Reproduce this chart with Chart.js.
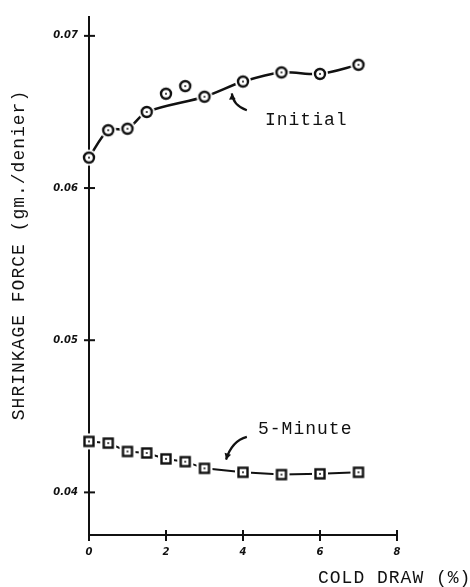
<!DOCTYPE html>
<html>
<head>
<meta charset="utf-8">
<script src="https://cdn.jsdelivr.net/npm/chart.js@4.4.1/dist/chart.umd.min.js"></script>
<style>
  html, body { margin: 0; padding: 0; background: #fff; }
  #chart { display: block; }
</style>
</head>
<body>
<canvas id="chart" width="470" height="587"></canvas>
<script>
// cold draw (%) - same for both runs
const coldDraw = [0, 0.5, 1, 1.5, 2, 2.5, 3, 4, 5, 6, 7];
// shrinkage force (gm./denier)
const initialForce = [0.0620, 0.0638, 0.0639, 0.0650, 0.0662, 0.0667, 0.0660, 0.0670, 0.0676, 0.0675, 0.0681];
const fiveMinuteForce = [0.04335, 0.04324, 0.04269, 0.04259, 0.04220, 0.04202, 0.04158, 0.04132, 0.04117, 0.04122, 0.04132];
// the hand drawn curve of the initial run passes below these two points
const initialOffCurve = [2, 2.5];
const xTicks = [0, 2, 4, 6, 8];
const yTicks = [0.04, 0.05, 0.06, 0.07];

const ink = '#111';
const typeFont = '18px "Liberation Mono", "Courier New", monospace';
const tickFont = { family: 'DejaVu Sans', size: 10, weight: 'bold', style: 'italic' };

// marker images: ring / box with a dot, on a white patch so the line stops short of it
function makeMarker(shape) {
    const c = document.createElement('canvas');
    c.width = 18;
    c.height = 18;
    const g = c.getContext('2d');
    g.fillStyle = '#fff';
    g.strokeStyle = ink;
    g.lineWidth = 2.4;
    if (shape === 'circle') {
        g.beginPath(); g.arc(9, 9, 8, 0, Math.PI * 2); g.fill();
        g.beginPath(); g.arc(9, 9, 5, 0, Math.PI * 2); g.stroke();
    } else {
        g.fillRect(1, 1, 16, 16);
        g.strokeRect(4.5, 4.5, 9, 9);
    }
    g.fillStyle = ink;
    g.beginPath(); g.arc(9, 9, 1, 0, Math.PI * 2); g.fill();
    return c;
}

const toPoints = (xs, ys) => xs.map((x, i) => ({ x: x, y: ys[i] }));
const initialPoints = toPoints(coldDraw, initialForce);
const initialCurve = initialPoints.filter(p => !initialOffCurve.includes(p.x));

// crosses on the axes, typed labels and arrows
const paperMarks = {
    id: 'paperMarks',
    afterDraw(chart) {
        const ctx = chart.ctx;
        const xs = chart.scales.x;
        const ys = chart.scales.y;
        const px = v => xs.getPixelForValue(v);
        const py = v => ys.getPixelForValue(v);
        ctx.save();
        ctx.strokeStyle = ink;
        ctx.fillStyle = ink;
        ctx.lineWidth = 2;

        const x0 = px(0), y0 = ys.bottom;
        yTicks.forEach(v => {
            ctx.beginPath();
            ctx.moveTo(x0 - 5, py(v));
            ctx.lineTo(x0 + 6, py(v));
            ctx.stroke();
        });
        xTicks.forEach(v => {
            ctx.beginPath();
            ctx.moveTo(px(v), y0 - 5);
            ctx.lineTo(px(v), y0 + 6);
            ctx.stroke();
        });

        function arrow(tail, ctrl, head) {
            const t = [px(tail[0]), py(tail[1])];
            const c = [px(ctrl[0]), py(ctrl[1])];
            const h = [px(head[0]), py(head[1])];
            ctx.lineWidth = 2.2;
            ctx.beginPath();
            ctx.moveTo(t[0], t[1]);
            ctx.quadraticCurveTo(c[0], c[1], h[0], h[1]);
            ctx.stroke();
            const a = Math.atan2(h[1] - c[1], h[0] - c[0]);
            ctx.beginPath();
            ctx.moveTo(h[0], h[1]);
            ctx.lineTo(h[0] - 7 * Math.cos(a - 0.5), h[1] - 7 * Math.sin(a - 0.5));
            ctx.lineTo(h[0] - 7 * Math.cos(a + 0.5), h[1] - 7 * Math.sin(a + 0.5));
            ctx.closePath();
            ctx.fill();
        }
        arrow([4.10, 0.06511], [3.74, 0.06543], [3.71, 0.06622]);
        arrow([4.10, 0.04365], [3.71, 0.04339], [3.56, 0.04215]);

        ctx.font = typeFont;
        ctx.letterSpacing = '1px';
        ctx.textBaseline = 'alphabetic';
        ctx.textAlign = 'left';
        ctx.fillText('Initial', px(4.57), py(0.06413));
        ctx.fillText('5-Minute', px(4.39), py(0.04385));
        ctx.fillText('COLD DRAW (%)', 318, 583);

        ctx.translate(24, 255);
        ctx.rotate(-Math.PI / 2);
        ctx.textAlign = 'center';
        ctx.fillText('SHRINKAGE FORCE (gm./denier)', 0, 0);
        ctx.restore();
    }
};

new Chart(document.getElementById('chart'), {
    type: 'line',
    data: {
        datasets: [
            {
                label: 'Initial curve',
                data: initialCurve,
                borderColor: ink,
                borderWidth: 2.5,
                tension: 0.3,
                pointRadius: 0,
                fill: false,
                order: 2
            },
            {
                label: 'Initial',
                data: initialPoints,
                showLine: false,
                pointStyle: makeMarker('circle'),
                pointRadius: 5,
                clip: false,
                order: 0
            },
            {
                label: '5-Minute',
                data: toPoints(coldDraw, fiveMinuteForce),
                borderColor: ink,
                borderWidth: 2,
                tension: 0,
                pointStyle: makeMarker('square'),
                pointRadius: 5,
                clip: false,
                fill: false,
                order: 1
            }
        ]
    },
    options: {
        responsive: false,
        animation: false,
        devicePixelRatio: 1,
        layout: { padding: { top: 13, right: 73, left: 0, bottom: 0 } },
        plugins: {
            legend: { display: false },
            tooltip: { enabled: false }
        },
        scales: {
            x: {
                type: 'linear',
                min: 0,
                max: 8,
                afterBuildTicks: s => { s.ticks = xTicks.map(v => ({ value: v })); },
                afterFit: s => { s.height = 52; },
                grid: { display: false, drawTicks: false },
                border: { display: true, color: ink, width: 2 },
                ticks: { color: ink, font: tickFont, padding: 11, maxRotation: 0, autoSkip: false,
                         callback: v => String(v) }
            },
            y: {
                type: 'linear',
                min: 0.0372,
                max: 0.07124,
                afterBuildTicks: s => { s.ticks = yTicks.map(v => ({ value: v })); },
                afterFit: s => { s.width = 89; },
                grid: { display: false, drawTicks: false },
                border: { display: true, color: ink, width: 2 },
                ticks: { color: ink, font: tickFont, padding: 11, autoSkip: false,
                         callback: v => v.toFixed(2) }
            }
        }
    },
    plugins: [paperMarks]
});
</script>
</body>
</html>
